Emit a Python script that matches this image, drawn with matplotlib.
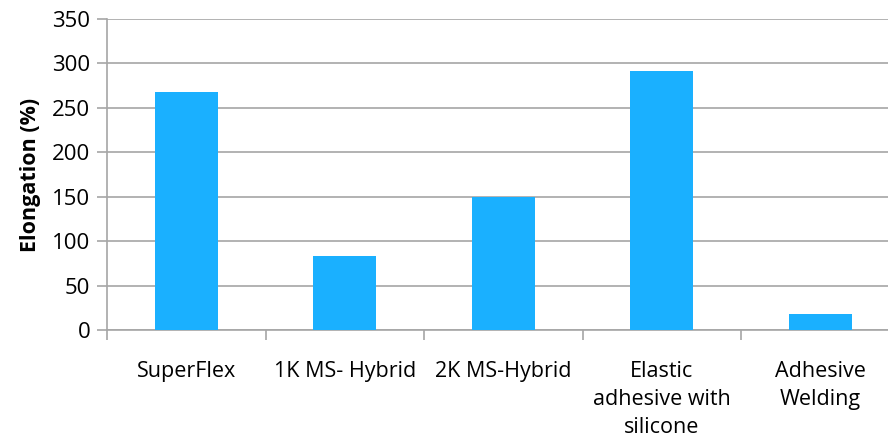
import numpy as np
import matplotlib.pyplot as plt

categories = ["SuperFlex", "1K MS- Hybrid", "2K MS-Hybrid",
              "Elastic\nadhesive with\nsilicone", "Adhesive\nWelding"]
elongation = [268, 83, 150, 292, 18]
yticks = [0, 50, 100, 150, 200, 250, 300, 350]

plt.rcParams['font.family'] = ['Open Sans', 'DejaVu Sans']

fig = plt.figure(figsize=(8.88, 4.4), dpi=100)
# axes run slightly past the right edge, as in the original
ax = fig.add_axes([107 / 888, 1 - 330 / 440, 792.5 / 888, 311 / 440])

x = np.arange(len(categories))
ax.bar(x, elongation, width=0.4, color="#1ab0ff", zorder=3)

ax.set_xlim(-0.5, len(categories) - 0.5)
ax.set_ylim(0, 350)
ax.set_yticks(yticks)
ax.yaxis.grid(True, color="#a6a6a6", linewidth=1.2, zorder=0)

ax.set_xticks(np.arange(len(categories) + 1) - 0.5)
ax.set_xticklabels([])
ax.set_xticks(x, minor=True)
ax.set_xticklabels(categories, minor=True, fontsize=15.5, linespacing=1.45,
                   verticalalignment="top")
ax.tick_params(axis="x", which="minor", length=0, pad=22)
ax.tick_params(axis="x", which="major", length=7, color="#a6a6a6", width=1.2)
ax.tick_params(axis="y", length=7, color="#a6a6a6", width=1.2, labelsize=16, pad=5)

for side in ["top", "right"]:
    ax.spines[side].set_visible(False)
for side in ["left", "bottom"]:
    ax.spines[side].set_color("#a6a6a6")
    ax.spines[side].set_linewidth(1.2)

ax.set_ylabel("Elongation (%)", fontsize=15.5, fontweight="bold", labelpad=8)

fig.savefig("out.png", dpi=100)
